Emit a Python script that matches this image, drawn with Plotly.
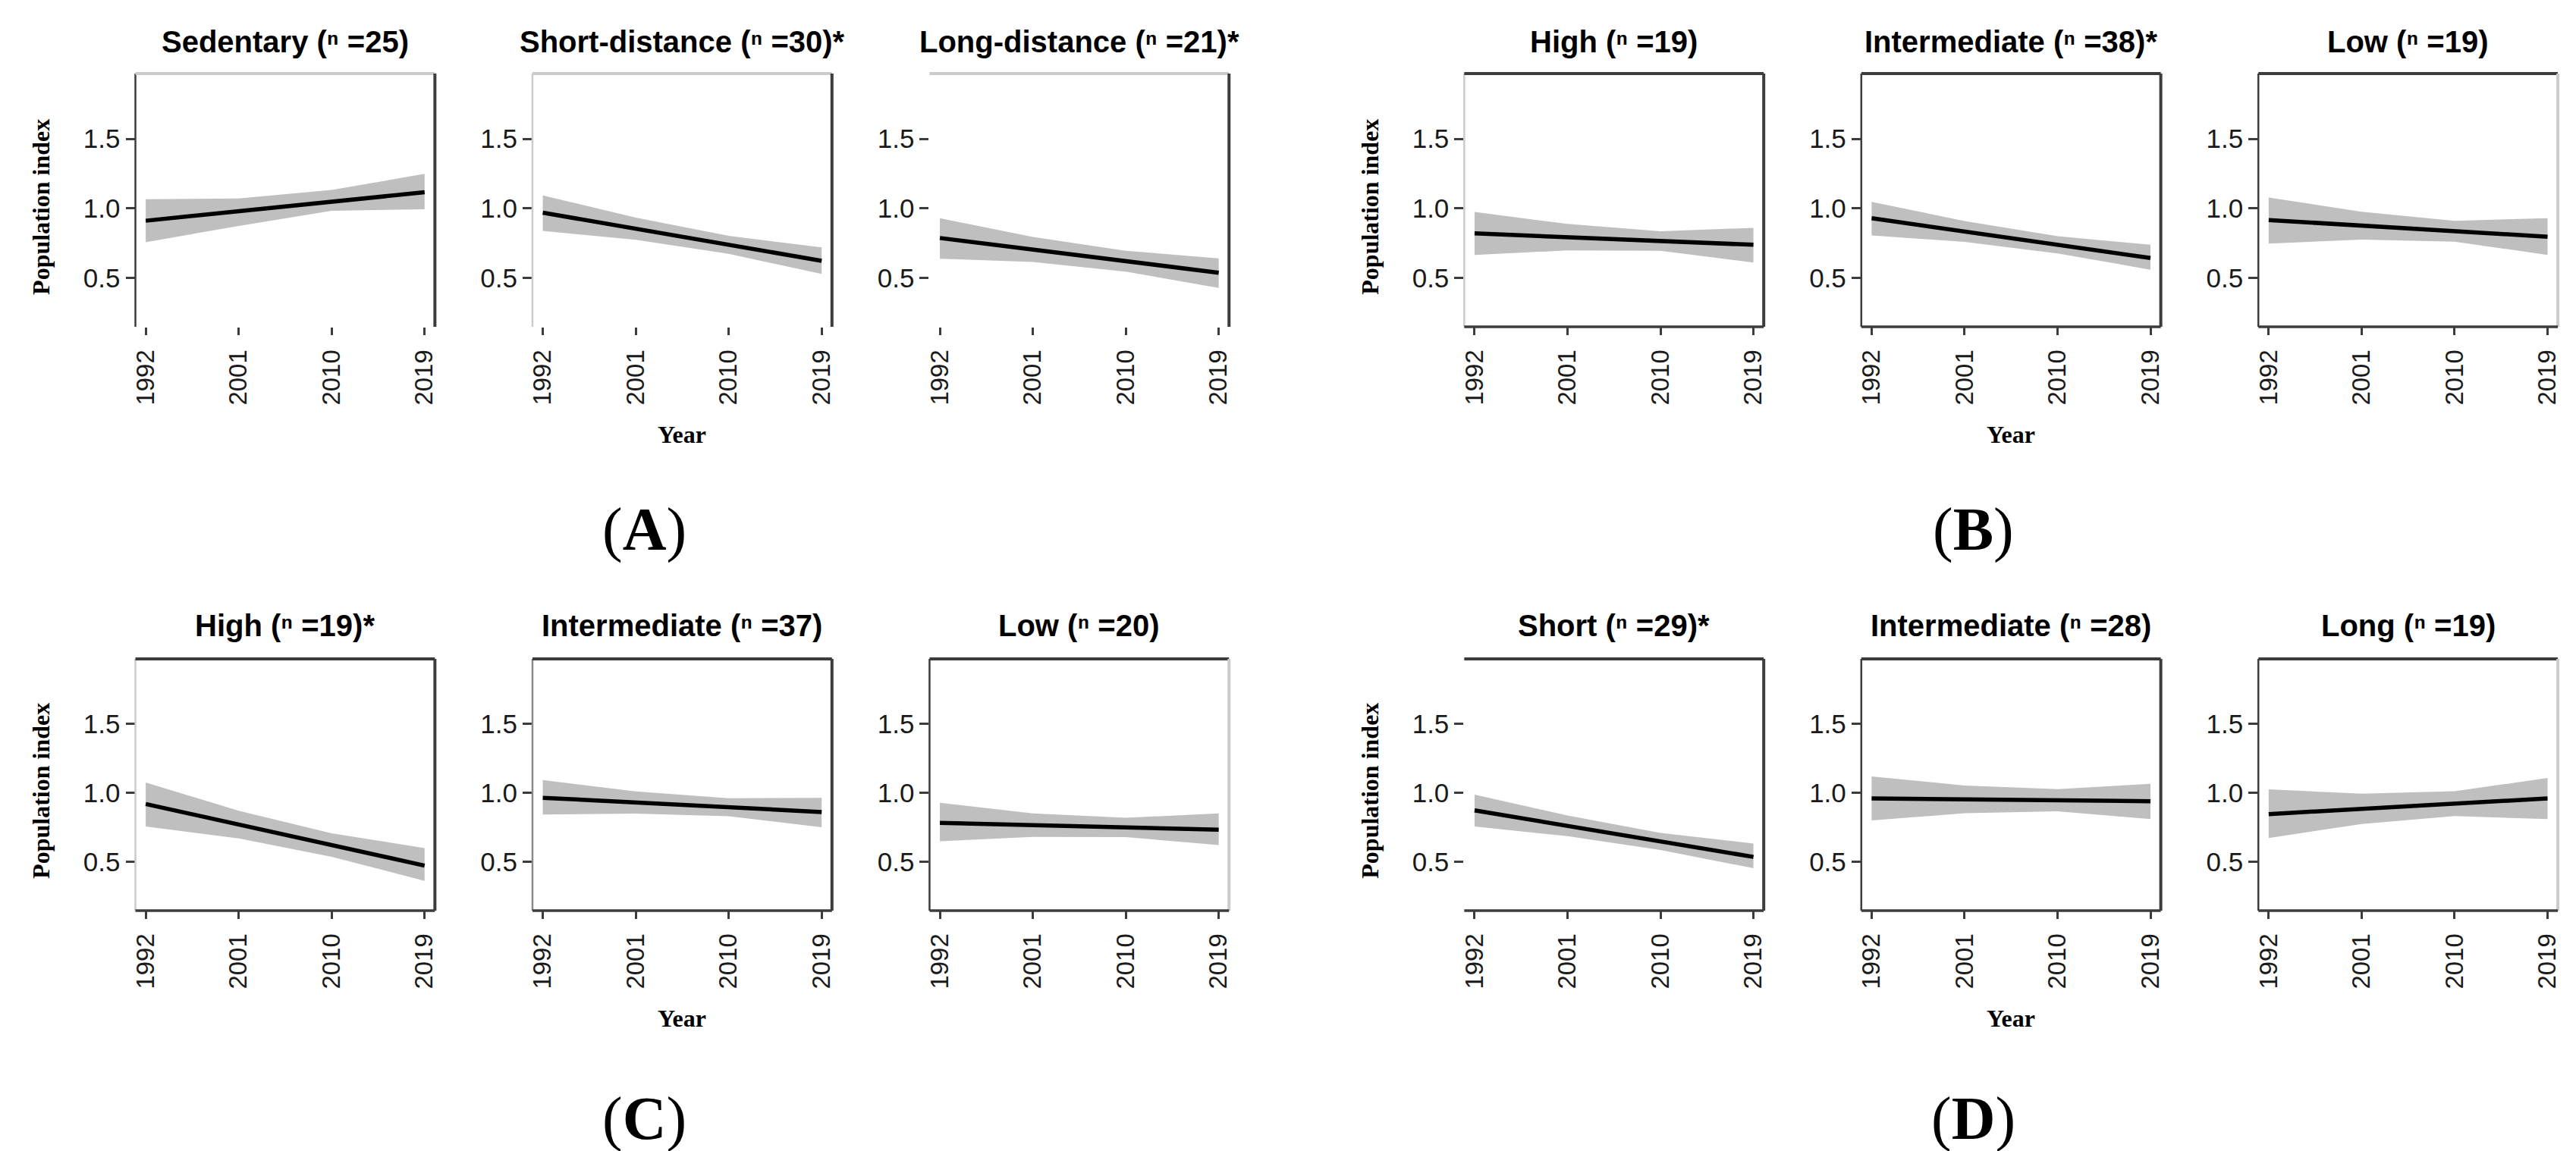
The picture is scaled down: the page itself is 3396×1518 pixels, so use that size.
import plotly.graph_objects as go

# ---------------- data ----------------
years = [1992, 2001, 2010, 2019]
year_ticks = ["1992", "2001", "2010", "2019"]
y_ticks = [0.5, 1.0, 1.5]
y_tick_text = ["0.5", "1.0", "1.5"]

panel_titles = [
    "Sedentary (ⁿ =25)", "Short-distance (ⁿ =30)*", "Long-distance (ⁿ =21)*",
    "High (ⁿ =19)", "Intermediate (ⁿ =38)*", "Low (ⁿ =19)",
    "High (ⁿ =19)*", "Intermediate (ⁿ =37)", "Low (ⁿ =20)",
    "Short (ⁿ =29)*", "Intermediate (ⁿ =28)", "Long (ⁿ =19)",
]
group_labels = ["A", "B", "C", "D"]

# (A) migration behaviour
sedentary_fit = [0.911, 0.979, 1.048, 1.116]
sedentary_lo = [0.756, 0.874, 0.983, 0.993]
sedentary_hi = [1.066, 1.071, 1.133, 1.248]
short_dist_fit = [0.969, 0.854, 0.738, 0.623]
short_dist_lo = [0.838, 0.774, 0.673, 0.528]
short_dist_hi = [1.093, 0.934, 0.803, 0.719]
long_dist_fit = [0.787, 0.704, 0.620, 0.537]
long_dist_lo = [0.638, 0.614, 0.545, 0.428]
long_dist_hi = [0.929, 0.794, 0.695, 0.641]
# (B)
b_high_fit = [0.820, 0.793, 0.765, 0.738]
b_high_lo = [0.665, 0.698, 0.695, 0.610]
b_high_hi = [0.974, 0.888, 0.835, 0.860]
b_inter_fit = [0.929, 0.834, 0.738, 0.643]
b_inter_lo = [0.805, 0.759, 0.676, 0.559]
b_inter_hi = [1.047, 0.909, 0.800, 0.738]
b_low_fit = [0.916, 0.876, 0.836, 0.796]
b_low_lo = [0.747, 0.776, 0.761, 0.665]
b_low_hi = [1.078, 0.976, 0.911, 0.929]
# (C)
c_high_fit = [0.920, 0.771, 0.623, 0.474]
c_high_lo = [0.757, 0.671, 0.538, 0.364]
c_high_hi = [1.075, 0.871, 0.708, 0.601]
c_inter_fit = [0.965, 0.931, 0.896, 0.862]
c_inter_lo = [0.843, 0.851, 0.831, 0.752]
c_inter_hi = [1.093, 1.011, 0.961, 0.965]
c_low_fit = [0.783, 0.767, 0.750, 0.734]
c_low_lo = [0.650, 0.682, 0.680, 0.623]
c_low_hi = [0.929, 0.852, 0.820, 0.852]
# (D)
d_short_fit = [0.874, 0.762, 0.649, 0.537]
d_short_lo = [0.757, 0.687, 0.587, 0.455]
d_short_hi = [0.987, 0.837, 0.711, 0.634]
d_inter_fit = [0.960, 0.953, 0.947, 0.940]
d_inter_lo = [0.801, 0.853, 0.867, 0.811]
d_inter_hi = [1.120, 1.053, 1.027, 1.066]
d_long_fit = [0.847, 0.885, 0.922, 0.960]
d_long_lo = [0.674, 0.775, 0.832, 0.811]
d_long_hi = [1.026, 0.995, 1.012, 1.108]

fits = [sedentary_fit, short_dist_fit, long_dist_fit, b_high_fit, b_inter_fit, b_low_fit,
        c_high_fit, c_inter_fit, c_low_fit, d_short_fit, d_inter_fit, d_long_fit]
lows = [sedentary_lo, short_dist_lo, long_dist_lo, b_high_lo, b_inter_lo, b_low_lo,
        c_high_lo, c_inter_lo, c_low_lo, d_short_lo, d_inter_lo, d_long_lo]
highs = [sedentary_hi, short_dist_hi, long_dist_hi, b_high_hi, b_inter_hi, b_low_hi,
         c_high_hi, c_inter_hi, c_low_hi, d_short_hi, d_inter_hi, d_long_hi]

# ---------------- layout / style ----------------
W, H = 3396, 1518
col_left = [165, 690, 1215, 1922, 2447, 2972]
PW = 396
row_top = [89, 861]
row_bot = [423, 1193]
X_RANGE = [1991.0, 2020.0]
Y_RANGE = [0.148, 1.97]

SANS = "Liberation Sans, Arial, sans-serif"
SERIF = "Liberation Serif, Times New Roman, serif"
DARK = "#3c3c3c"
LIGHT = "#cbcbcb"
MID = "#8a8a8a"
BAND = "#bfbfbf"

# frame sides per panel: (left, top, right, bottom)
frames = [
    (DARK, LIGHT, DARK, None), (LIGHT, LIGHT, DARK, None), (None, LIGHT, DARK, None),
    (LIGHT, DARK, DARK, DARK), (DARK, DARK, DARK, DARK), (DARK, DARK, LIGHT, DARK),
    (LIGHT, DARK, DARK, DARK), (MID, DARK, DARK, DARK), (DARK, DARK, LIGHT, DARK),
    (None, DARK, DARK, DARK), (DARK, DARK, DARK, DARK), (DARK, DARK, LIGHT, DARK),
]

fig = go.Figure()
annotations = []
shapes = []
layout_axes = {}

for i in range(12):
    k = i + 1
    row, col = i // 6, i % 6
    xname = "x" if k == 1 else f"x{k}"
    yname = "y" if k == 1 else f"y{k}"
    xdom = [col_left[col] / W, (col_left[col] + PW) / W]
    ydom = [1 - row_bot[row] / H, 1 - row_top[row] / H]

    fig.add_trace(go.Scatter(
        x=years + years[::-1], y=highs[i] + lows[i][::-1],
        fill="toself", fillcolor=BAND, line=dict(width=0),
        mode="lines", showlegend=False, hoverinfo="skip",
        xaxis=xname, yaxis=yname))
    fig.add_trace(go.Scatter(
        x=years, y=fits[i], mode="lines",
        line=dict(color="black", width=5.5),
        showlegend=False, xaxis=xname, yaxis=yname))

    layout_axes["xaxis" if k == 1 else f"xaxis{k}"] = dict(
        domain=xdom, anchor=yname, range=X_RANGE,
        tickvals=years, ticktext=year_ticks, tickangle=-90,
        ticks="outside", ticklen=10, tickwidth=2.5, tickcolor=DARK,
        ticklabelstandoff=6,
        showline=False, showgrid=False, zeroline=False,
        tickfont=dict(family=SANS, size=33, color="#1a1a1a"))
    layout_axes["yaxis" if k == 1 else f"yaxis{k}"] = dict(
        domain=ydom, anchor=xname, range=Y_RANGE,
        tickvals=y_ticks, ticktext=y_tick_text,
        ticks="outside", ticklen=12, tickwidth=2.5, tickcolor=DARK,
        showline=False, showgrid=False, zeroline=False,
        tickfont=dict(family=SANS, size=35, color="#1a1a1a"))

    # frame
    xr = f"{xname} domain"
    yr = f"{yname} domain"
    left, top, right, bottom = frames[i]
    sides = [
        (left, 0, 0, 0, 1, 2.5),
        (top, 0, 1, 1, 1, 4),
        (right, 1, 0, 1, 1, 4),
        (bottom, 0, 0, 1, 0, 3.5),
    ]
    for color, xa, ya, xb, yb, lw in sides:
        if color is None:
            continue
        shapes.append(dict(type="line", xref=xr, yref=yr, x0=xa, y0=ya, x1=xb, y1=yb,
                           line=dict(color=color, width=lw), layer="above"))

    # panel title
    annotations.append(dict(
        text=panel_titles[i], x=(col_left[col] + PW / 2) / W,
        y=1 - (47 if row == 0 else 817) / H, xref="paper", yref="paper",
        xanchor="center", yanchor="middle", showarrow=False,
        font=dict(family=SANS, size=40, color="black", weight="bold")))

# axis titles and group labels
for g in range(4):
    row, half = g // 2, g % 2
    first_col = col_left[half * 3]
    mid_col = col_left[half * 3 + 1]
    annotations.append(dict(
        text="Population index", textangle=-90,
        x=(first_col - 125) / W, y=1 - (265 if row == 0 else 1035) / H,
        xref="paper", yref="paper", xanchor="center", yanchor="middle", showarrow=False,
        font=dict(family=SERIF, size=32, color="black", weight="bold")))
    annotations.append(dict(
        text="Year", x=(mid_col + PW / 2) / W, y=1 - (565 if row == 0 else 1335) / H,
        xref="paper", yref="paper", xanchor="center", yanchor="middle", showarrow=False,
        font=dict(family=SERIF, size=32, color="black", weight="bold")))
    annotations.append(dict(
        text=f"(<b>{group_labels[g]}</b>)", x=(mid_col + PW / 2 - 50) / W,
        y=1 - (690 if row == 0 else 1467) / H,
        xref="paper", yref="paper", xanchor="center", yanchor="middle", showarrow=False,
        font=dict(family=SERIF, size=80, color="black")))

fig.update_layout(
    width=W, height=H, margin=dict(l=0, r=0, t=0, b=0),
    paper_bgcolor="white", plot_bgcolor="white",
    annotations=annotations, shapes=shapes, showlegend=False,
    **layout_axes)

fig.write_html("out.html")
